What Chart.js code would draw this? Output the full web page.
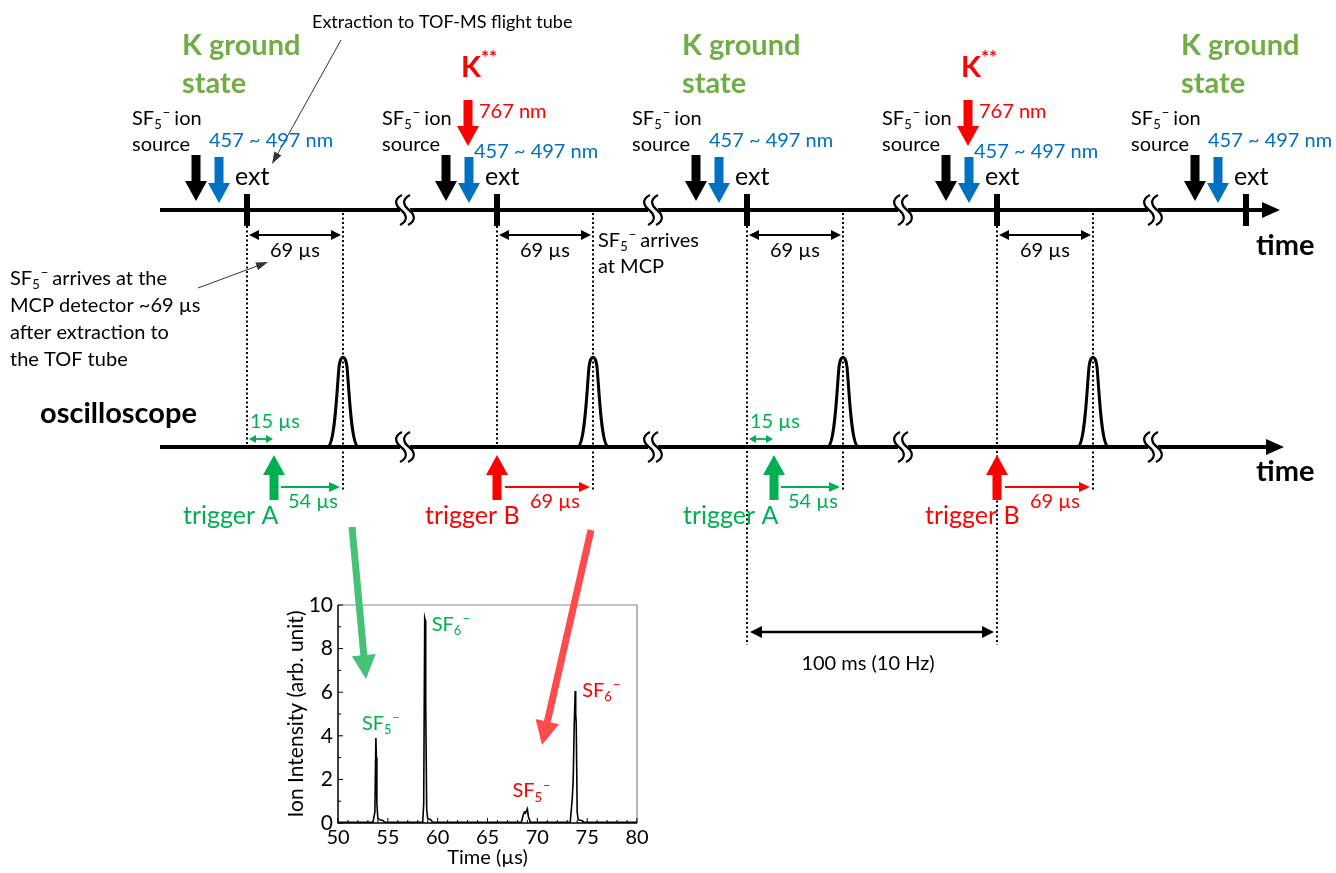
<!doctype html>
<html lang="en">
<head>
<meta charset="utf-8">
<title>SF5- TOF timing scheme</title>
<script src="https://cdn.jsdelivr.net/npm/chart.js@4.4.1/dist/chart.umd.min.js"></script>
<style>
  html, body { margin: 0; padding: 0; background: #fff; }
  canvas { display: block; }
</style>
</head>
<body>
<canvas id="tof" width="1336" height="873"></canvas>
<script>
// ---- inset spectrum data ----
let timeUs    = [50, 53.5, 53.7, 53.8, 53.85, 53.9, 54.0, 54.2, 54.5, 54.7,
                 58.5, 58.6, 58.7, 58.75, 58.8, 58.9, 59.0, 59.3, 59.5,
                 68.4, 68.6, 68.7, 68.8, 69.0, 69.1, 69.3,
                 73.3, 73.5, 73.6, 73.7, 73.8, 73.85, 73.9, 74.0, 74.1, 74.5, 74.7, 80];
let intensity = [0.03, 0.03, 0.5, 3.9, 3.0, 0.9, 0.2, 0.15, 0.12, 0.03,
                 0.03, 0.9, 9.4, 9.3, 5.5, 0.6, 0.2, 0.15, 0.03,
                 0.03, 0.4, 0.5, 0.45, 0.65, 0.3, 0.03,
                 0.03, 1.1, 2.0, 4.5, 6.05, 5.0, 4.6, 0.5, 0.15, 0.1, 0.03, 0.03];
let xTicks = [50, 55, 60, 65, 70, 75, 80];
let yTicks = [0, 2, 4, 6, 8, 10];

// peak labels: ion, subscript, colour, anchor (time, intensity)
let peakIon   = ['SF', 'SF', 'SF', 'SF'];
let peakSub   = ['5', '6', '5', '6'];
let peakColor = ['#00B050', '#00B050', '#FF0000', '#FF0000'];
let peakAt    = [[52.4, 4.6], [59.4, 9.15], [67.5, 1.5], [74.5, 6.1]];

// ---- timing scheme ----
let cycleState = ['ground', 'excited', 'ground', 'excited', 'ground'];
let flightLabel = '69 µs';
let delayA = '15 µs', arriveA = '54 µs', arriveB = '69 µs';
let laserProbe = '457 ~ 497 nm', laserPump = '767 nm';
let repLabel = '100 ms (10 Hz)';

const GREEN_T = '#70AD47', GREEN = '#00B050', BLUE = '#0070C0', RED = '#FF0000';
const FONT = 'Lato, "Open Sans", sans-serif';

// pixel layout of the scheme
const L = {
  topY: 210, oscY: 447, x0: 160, x1: 1280,
  extX: [247, 497, 747, 997, 1246],
  breakX: [405, 653, 903, 1153],
  flightPx: 96, trigPx: 27
};

function font(size, bold) { return (bold ? 'bold ' : '') + size + 'px ' + FONT; }

function txt(ctx, s, x, y, size, color, bold, align) {
  ctx.font = font(size, bold);
  ctx.fillStyle = color;
  ctx.textAlign = align || 'left';
  ctx.textBaseline = 'alphabetic';
  ctx.fillText(s, x, y);
  return ctx.measureText(s).width;
}

// "SF5-" style formula, returns end x
function chem(ctx, x, y, size, color, base, sub, sup) {
  let w = txt(ctx, base, x, y, size, color);
  let s = Math.round(size * 0.65);
  let w2 = txt(ctx, sub, x + w, y + size * 0.22, s, color);
  let w3 = txt(ctx, sup || '−', x + w + w2 + 1, y - size * 0.38, s, color);
  return x + w + w2 + w3 + 2;
}

function blockArrow(ctx, x, yTail, yTip, shaftW, headW, headH, color) {
  let d = yTip > yTail ? 1 : -1;
  let yb = yTip - d * headH;
  ctx.fillStyle = color;
  ctx.beginPath();
  ctx.moveTo(x - shaftW / 2, yTail);
  ctx.lineTo(x + shaftW / 2, yTail);
  ctx.lineTo(x + shaftW / 2, yb);
  ctx.lineTo(x + headW / 2, yb);
  ctx.lineTo(x, yTip);
  ctx.lineTo(x - headW / 2, yb);
  ctx.lineTo(x - shaftW / 2, yb);
  ctx.closePath();
  ctx.fill();
}

function head(ctx, x, y, ang, len, half, color) {
  ctx.fillStyle = color;
  ctx.beginPath();
  ctx.moveTo(x, y);
  ctx.lineTo(x - len * Math.cos(ang) + half * Math.sin(ang), y - len * Math.sin(ang) - half * Math.cos(ang));
  ctx.lineTo(x - len * Math.cos(ang) - half * Math.sin(ang), y - len * Math.sin(ang) + half * Math.cos(ang));
  ctx.closePath();
  ctx.fill();
}

function arrowLine(ctx, xa, ya, xb, yb, color, lw, len, half, both) {
  let ang = Math.atan2(yb - ya, xb - xa);
  ctx.strokeStyle = color;
  ctx.lineWidth = lw;
  ctx.beginPath();
  ctx.moveTo(xa + (both ? len * 0.8 * Math.cos(ang) : 0), ya + (both ? len * 0.8 * Math.sin(ang) : 0));
  ctx.lineTo(xb - len * 0.8 * Math.cos(ang), yb - len * 0.8 * Math.sin(ang));
  ctx.stroke();
  head(ctx, xb, yb, ang, len, half, color);
  if (both) head(ctx, xa, ya, ang + Math.PI, len, half, color);
}

function dotted(ctx, x, y0, y1) {
  ctx.save();
  ctx.strokeStyle = '#000';
  ctx.lineWidth = 2;
  ctx.setLineDash([2, 2.5]);
  ctx.beginPath();
  ctx.moveTo(x, y0);
  ctx.lineTo(x, y1);
  ctx.stroke();
  ctx.restore();
}

function brk(ctx, x, y) {
  ctx.fillStyle = '#fff';
  ctx.fillRect(x - 5, y - 4, 10, 8);
  ctx.strokeStyle = '#000';
  ctx.lineWidth = 2.2;
  [-4, 4].forEach(dx => {
    let cx = x + dx;
    ctx.beginPath();
    ctx.moveTo(cx + 1, y - 15);
    ctx.bezierCurveTo(cx - 9, y - 10, cx - 4, y - 3, cx, y);
    ctx.bezierCurveTo(cx + 4, y + 3, cx + 9, y + 10, cx - 1, y + 15);
    ctx.stroke();
  });
}

function pulse(ctx, x, y) {
  ctx.strokeStyle = '#000';
  ctx.lineWidth = 3;
  ctx.beginPath();
  ctx.moveTo(x - 15, y);
  ctx.bezierCurveTo(x - 8, y - 3, x - 6, y - 60, x - 4, y - 80);
  ctx.bezierCurveTo(x - 2.5, y - 93, x + 2.5, y - 93, x + 4, y - 80);
  ctx.bezierCurveTo(x + 6, y - 60, x + 8, y - 3, x + 15, y);
  ctx.stroke();
}

function timeline(ctx, y, tipX) {
  ctx.strokeStyle = '#000';
  ctx.lineWidth = 4;
  ctx.beginPath();
  ctx.moveTo(L.x0, y);
  ctx.lineTo(tipX - 12, y);
  ctx.stroke();
  head(ctx, tipX, y, 0, 18, 8, '#000');
}

const schemePlugin = {
  id: 'scheme',
  afterDraw(chart) {
    const ctx = chart.ctx;
    ctx.save();

    timeline(ctx, L.topY, L.x1);
    timeline(ctx, L.oscY, L.x1 + 4);
    L.breakX.forEach(x => { brk(ctx, x, L.topY); brk(ctx, x, L.oscY); });

    txt(ctx, 'Extraction to TOF-MS flight tube', 312, 28, 18, '#000');
    arrowLine(ctx, 341, 40, 272, 164, '#333', 1, 12, 4);

    cycleState.forEach((state, i) => {
      const e = L.extX[i];
      const arr = e + L.flightPx;
      const ex = state === 'excited';

      // state heading
      if (ex) {
        let w = txt(ctx, 'K', e - 36, 77, 29, RED, true);
        txt(ctx, '**', e - 36 + w, 64, 19, RED, true);
        blockArrow(ctx, e - 29, 100, 146, 9, 22, 20, RED);
        txt(ctx, laserPump, e - 18, 118, 20, RED);
      } else {
        txt(ctx, 'K ground', e - 65, 55, 29, GREEN_T, true);
        txt(ctx, 'state', e - 65, 93, 29, GREEN_T, true);
      }

      // ion source + probe laser
      let sx = chem(ctx, e - 115, 125, 20, '#000', 'SF', '5');
      txt(ctx, ' ion', sx - 2, 125, 20, '#000');
      txt(ctx, 'source', e - 115, 151, 20, '#000');
      blockArrow(ctx, e - 51, 155, 201, 9, 22, 20, '#000');
      blockArrow(ctx, e - 28, 157, 203, 9, 22, 20, BLUE);
      txt(ctx, laserProbe, ex ? e - 23 : e - 38, ex ? 158 : 147, 20, BLUE);

      // extraction pulse
      ctx.fillStyle = '#000';
      ctx.fillRect(e - 3, 194, 6, 32);
      txt(ctx, 'ext', e - 12, 185, 25, '#000');
      if (i === cycleState.length - 1) return;

      // flight time
      dotted(ctx, e, 226, i < 2 ? L.oscY : 645);
      dotted(ctx, arr, 213, 490);
      arrowLine(ctx, e + 2, 235, arr - 2, 235, '#000', 2, 10, 5, true);
      txt(ctx, flightLabel, (e + arr) / 2, 257, 20, '#000', false, 'center');

      // oscilloscope
      pulse(ctx, arr, L.oscY);
      if (ex) {
        blockArrow(ctx, e, 500, 455, 9, 22, 20, RED);
        arrowLine(ctx, e + 8, 487, arr - 3, 487, RED, 1.8, 11, 5);
        txt(ctx, arriveB, e + 33, 508, 20, RED);
        txt(ctx, 'trigger B', e - 72, 524, 25, RED);
      } else {
        const tA = e + L.trigPx;
        txt(ctx, delayA, e + 3, 428, 20, GREEN);
        arrowLine(ctx, e + 2, 439, tA - 1, 439, GREEN, 1.8, 7, 4, true);
        blockArrow(ctx, tA, 500, 455, 9, 22, 20, GREEN);
        arrowLine(ctx, tA + 7, 487, arr - 3, 487, GREEN, 1.8, 11, 5);
        txt(ctx, arriveA, tA + 14, 508, 20, GREEN);
        txt(ctx, 'trigger A', tA - 91, 524, 25, GREEN);
      }
    });

    // side notes
    let sx = chem(ctx, 10, 285, 20, '#000', 'SF', '5');
    txt(ctx, ' arrives at the', sx - 2, 285, 20, '#000');
    txt(ctx, 'MCP detector ~69 µs', 10, 312, 20, '#000');
    txt(ctx, 'after extraction to', 10, 339, 20, '#000');
    txt(ctx, 'the TOF tube', 10, 366, 20, '#000');
    arrowLine(ctx, 198, 288, 268, 262, '#333', 1, 12, 4);

    sx = chem(ctx, 598, 247, 20, '#000', 'SF', '5');
    txt(ctx, ' arrives', sx - 2, 247, 20, '#000');
    txt(ctx, 'at MCP', 598, 273, 20, '#000');

    txt(ctx, 'time', 1256, 255, 29, '#000', true);
    txt(ctx, 'time', 1256, 481, 29, '#000', true);
    txt(ctx, 'oscilloscope', 40, 423, 29, '#000', true);

    // repetition period
    arrowLine(ctx, L.extX[2] + 3, 632, L.extX[3] - 3, 632, '#000', 2.5, 12, 6, true);
    txt(ctx, repLabel, 868, 670, 20, '#000', false, 'center');

    // pointers into the spectrum
    arrowLine(ctx, 352, 527, 366, 679, '#45C277', 7, 24, 12);
    arrowLine(ctx, 591, 530, 542, 745, '#FF4B4B', 7, 24, 12);

    ctx.restore();
  }
};

const insetPlugin = {
  id: 'inset',
  afterDatasetsDraw(chart) {
    const ctx = chart.ctx, a = chart.chartArea;
    const xs = chart.scales.x, ys = chart.scales.y;
    ctx.save();
    ctx.lineWidth = 1.2;
    ctx.strokeStyle = '#888';
    ctx.beginPath();
    ctx.moveTo(a.left, a.top); ctx.lineTo(a.right, a.top); ctx.lineTo(a.right, a.bottom);
    ctx.stroke();
    ctx.strokeStyle = '#000';
    ctx.lineWidth = 1.5;
    ctx.beginPath();
    ctx.moveTo(a.left, a.top); ctx.lineTo(a.left, a.bottom); ctx.lineTo(a.right, a.bottom);
    ctx.stroke();
    // inward ticks
    ctx.lineWidth = 1;
    ctx.beginPath();
    for (let v = 50; v <= 80; v++) {
      const px = xs.getPixelForValue(v), len = v % 5 === 0 ? 5 : 3;
      ctx.moveTo(px, a.bottom); ctx.lineTo(px, a.bottom - len);
    }
    for (let v = 0; v <= 10; v++) {
      const py = ys.getPixelForValue(v), len = v % 2 === 0 ? 5 : 3;
      ctx.moveTo(a.left, py); ctx.lineTo(a.left + len, py);
    }
    ctx.stroke();
    // peak labels
    peakIon.forEach((ion, i) => {
      const px = xs.getPixelForValue(peakAt[i][0]);
      const py = ys.getPixelForValue(peakAt[i][1]);
      chem(ctx, px, py + 7, 20, peakColor[i], ion, peakSub[i]);
    });
    ctx.restore();
  }
};

Chart.defaults.font.family = FONT;
Chart.defaults.color = '#000';

new Chart(document.getElementById('tof'), {
  type: 'scatter',
  data: {
    datasets: [{
      data: timeUs.map((t, i) => ({ x: t, y: intensity[i] })),
      showLine: true,
      borderColor: '#000',
      borderWidth: 1.6,
      pointRadius: 0,
      tension: 0
    }]
  },
  options: {
    responsive: false,
    animation: false,
    devicePixelRatio: 1,
    layout: { padding: { left: 284, right: 699, top: 605, bottom: 0 } },
    plugins: { legend: { display: false }, tooltip: { enabled: false } },
    scales: {
      x: {
        type: 'linear', min: 50, max: 80,
        afterBuildTicks: s => { s.ticks = xTicks.map(v => ({ value: v })); },
        afterFit: s => { s.height = 50; },
        grid: { display: false, drawTicks: false },
        border: { display: false },
        ticks: { font: { size: 20 }, padding: 3, maxRotation: 0 },
        title: { display: true, text: 'Time (µs)', font: { size: 20 }, padding: { top: 0, bottom: 3 } }
      },
      y: {
        min: 0, max: 10,
        afterBuildTicks: s => { s.ticks = yTicks.map(v => ({ value: v })); },
        afterFit: s => { s.width = 54; },
        grid: { display: false, drawTicks: false },
        border: { display: false },
        ticks: { font: { size: 21 }, padding: 5 },
        title: { display: true, text: 'Ion Intensity (arb. unit)', font: { size: 21 }, padding: 0 }
      }
    }
  },
  plugins: [insetPlugin, schemePlugin]
});
</script>
</body>
</html>
